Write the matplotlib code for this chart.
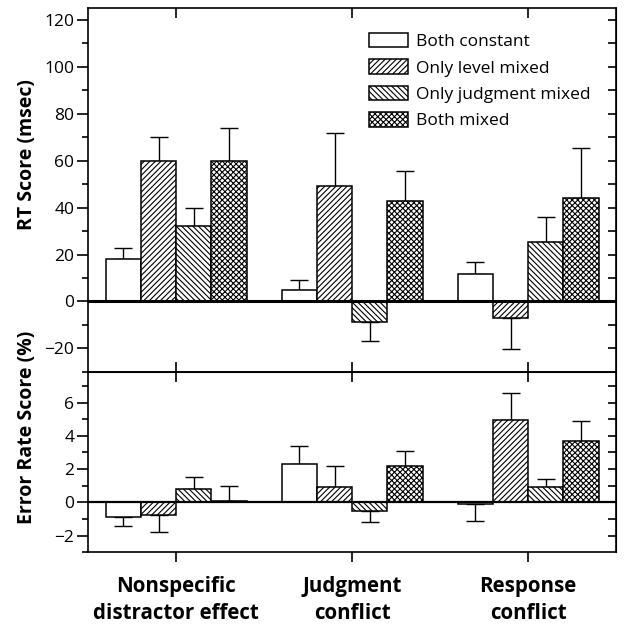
import numpy as np
import matplotlib
matplotlib.use('Agg')
import matplotlib.pyplot as plt
from matplotlib.ticker import MultipleLocator

plt.rcParams['font.family'] = ['Open Sans', 'DejaVu Sans']
plt.rcParams['hatch.linewidth'] = 0.8

categories = ['Nonspecific\ndistractor effect', 'Judgment\nconflict', 'Response\nconflict']
conditions = ['Both constant', 'Only level mixed', 'Only judgment mixed', 'Both mixed']
hatches = ['', '//////', '\\\\\\\\\\\\', 'xxxxxx']

# RT scores (msec) and one-sided error bars
rt_vals = [[18, 4.7, 11.9],
           [60, 49, -7.1],
           [32, -8.9, 25.4],
           [60, 43, 44]]
rt_err = [[4.7, 4.6, 5.0],
          [10, 23, 13.2],
          [8, 7.8, 10.5],
          [14, 12.6, 21.3]]

# error rate scores (%) and one-sided error bars
er_vals = [[-0.88, 2.28, -0.08],
           [-0.78, 0.9, 4.98],
           [0.78, -0.5, 0.9],
           [0.05, 2.18, 3.7]]
er_err = [[0.52, 1.12, 1.02],
          [1.02, 1.3, 1.62],
          [0.74, 0.7, 0.5],
          [0.95, 0.92, 1.2]]

fig = plt.figure(figsize=(6.25, 6.26), dpi=100)
ax1 = fig.add_axes([0.141, 0.406, 0.845, 0.581])
ax2 = fig.add_axes([0.141, 0.118, 0.845, 0.288])

x = np.arange(1, 4)
w = 0.2

def draw(ax, vals, errs, zlw):
    for i in range(4):
        v = np.array(vals[i])
        e = np.array(errs[i])
        pos = x + (i - 1.5) * w
        ax.bar(pos, v, w, color='white', edgecolor='black', linewidth=1.1,
               hatch=hatches[i], label=conditions[i], zorder=2)
        lower = np.where(v < 0, e, 0)
        upper = np.where(v >= 0, e, 0)
        ax.errorbar(pos, v, yerr=[lower, upper], fmt='none', ecolor='black',
                    elinewidth=1.0, capsize=6.5, capthick=1.0, zorder=1)
    ax.axhline(0, color='black', lw=zlw, zorder=3)
    ax.set_xlim(0.5, 3.5)
    for s in ax.spines.values():
        s.set_linewidth(1.2)

draw(ax1, rt_vals, rt_err, 2.2)
draw(ax2, er_vals, er_err, 1.6)

# top panel
ax1.set_ylim(-30, 125)
ax1.set_yticks([-20, 0, 20, 40, 60, 80, 100, 120])
ax1.yaxis.set_minor_locator(MultipleLocator(10))
ax1.set_xticks(x)
ax1.set_xticklabels([])
ax1.tick_params(axis='x', direction='in', top=True, bottom=True, length=7, width=1.2)
ax1.tick_params(axis='y', which='major', direction='out', length=8, width=1.2, labelsize=12.5, pad=2)
ax1.tick_params(axis='y', which='minor', direction='out', length=4, width=1.2)
ax1.set_yticklabels(['\u221220', '0', '20', '40', '60', '80', '100', '120'])
r1 = ax1.secondary_yaxis('right')
r1.set_yticks(np.arange(-20, 121, 10))
r1.tick_params(direction='in', length=6, width=1.2, labelright=False)

leg = ax1.legend(loc='upper right', bbox_to_anchor=(0.975, 0.965), frameon=False,
                 fontsize=12.5, handlelength=2.25, handleheight=0.9,
                 labelspacing=0.53, handletextpad=0.5, borderaxespad=0.3)

# bottom panel
ax2.set_ylim(-3, 7.85)
ax2.set_yticks([-2, 0, 2, 4, 6])
ax2.set_yticklabels(['\u22122', '0', '2', '4', '6'])
ax2.yaxis.set_minor_locator(MultipleLocator(1))
ax2.set_xticks(x)
ax2.set_xticklabels(categories, fontsize=14.8, fontweight='bold', linespacing=1.35)
ax2.tick_params(axis='x', direction='out', length=7, width=1.2, pad=10.5)
ax2.tick_params(axis='y', which='major', direction='out', length=8, width=1.2, labelsize=12.5, pad=2)
ax2.tick_params(axis='y', which='minor', direction='out', length=4, width=1.2)
t2 = ax2.secondary_xaxis('top')
t2.set_xticks(x)
t2.tick_params(direction='in', length=7, width=1.2, labeltop=False)
r2 = ax2.secondary_yaxis('right')
r2.set_yticks(np.arange(-2, 8, 1))
r2.tick_params(direction='in', length=6, width=1.2, labelright=False)

fig.text(0.043, 1 - 155 / 626, 'RT Score (msec)', rotation=90, ha='center', va='center',
         fontsize=14, fontweight='bold')
fig.text(0.043, 1 - 427 / 626, 'Error Rate Score (%)', rotation=90, ha='center', va='center',
         fontsize=14, fontweight='bold')

fig.savefig('out.png', dpi=100)
